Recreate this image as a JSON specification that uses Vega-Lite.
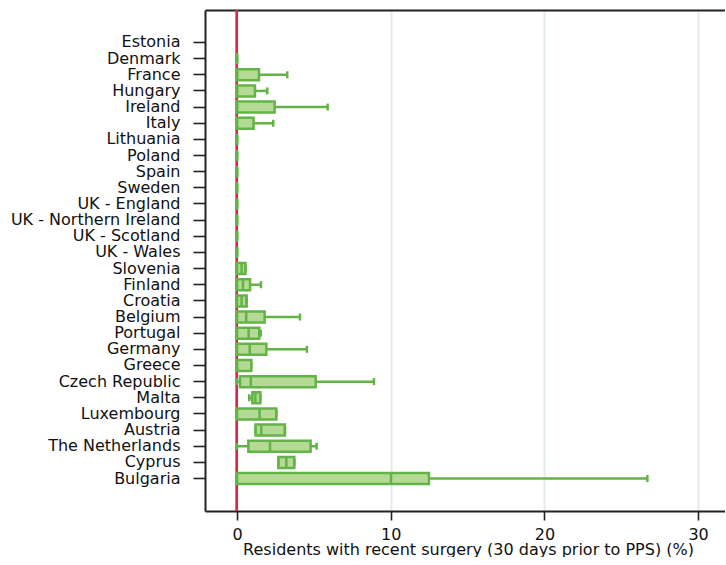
{
  "$schema": "https://vega.github.io/schema/vega-lite/v6.json",
  "width": 520,
  "height": 501,
  "padding": {"top": 9, "left": 10, "right": 0, "bottom": 0},
  "background": "white",
  "data": {
    "values": [
      {"country": "Estonia", "min": null, "q1": null, "median": null, "q3": null, "max": null},
      {"country": "Denmark", "min": 0, "q1": 0, "median": 0, "q3": 0, "max": 0},
      {"country": "France", "min": 0, "q1": 0, "median": 0, "q3": 1.43, "max": 3.27},
      {"country": "Hungary", "min": 0, "q1": 0, "median": 0, "q3": 1.17, "max": 1.97},
      {"country": "Ireland", "min": 0, "q1": 0, "median": 0, "q3": 2.45, "max": 5.9},
      {"country": "Italy", "min": 0, "q1": 0, "median": 0, "q3": 1.08, "max": 2.36},
      {"country": "Lithuania", "min": 0, "q1": 0, "median": 0, "q3": 0, "max": 0},
      {"country": "Poland", "min": 0, "q1": 0, "median": 0, "q3": 0, "max": 0},
      {"country": "Spain", "min": 0, "q1": 0, "median": 0, "q3": 0, "max": 0},
      {"country": "Sweden", "min": 0, "q1": 0, "median": 0, "q3": 0, "max": 0},
      {"country": "UK - England", "min": 0, "q1": 0, "median": 0, "q3": 0, "max": 0},
      {"country": "UK - Northern Ireland", "min": 0, "q1": 0, "median": 0, "q3": 0, "max": 0},
      {"country": "UK - Scotland", "min": 0, "q1": 0, "median": 0, "q3": 0, "max": 0},
      {"country": "UK - Wales", "min": 0, "q1": 0, "median": 0, "q3": 0, "max": 0},
      {"country": "Slovenia", "min": 0, "q1": 0, "median": 0.3, "q3": 0.55, "max": 0.55},
      {"country": "Finland", "min": 0, "q1": 0, "median": 0.39, "q3": 0.85, "max": 1.56},
      {"country": "Croatia", "min": 0, "q1": 0, "median": 0.3, "q3": 0.63, "max": 0.63},
      {"country": "Belgium", "min": 0, "q1": 0, "median": 0.6, "q3": 1.8, "max": 4.1},
      {"country": "Portugal", "min": 0, "q1": 0, "median": 0.76, "q3": 1.45, "max": 1.55},
      {"country": "Germany", "min": 0, "q1": 0, "median": 0.83, "q3": 1.91, "max": 4.55},
      {"country": "Greece", "min": 0, "q1": 0, "median": 0, "q3": 0.93, "max": 0.93},
      {"country": "Czech Republic", "min": 0, "q1": 0.2, "median": 0.9, "q3": 5.12, "max": 8.91},
      {"country": "Malta", "min": 0.8, "q1": 1.0, "median": 1.2, "q3": 1.52, "max": 1.52},
      {"country": "Luxembourg", "min": 0, "q1": 0, "median": 1.47, "q3": 2.56, "max": 2.56},
      {"country": "Austria", "min": 1.21, "q1": 1.21, "median": 1.58, "q3": 3.12, "max": 3.12},
      {"country": "The Netherlands", "min": 0, "q1": 0.74, "median": 2.15, "q3": 4.79, "max": 5.18},
      {"country": "Cyprus", "min": 2.69, "q1": 2.69, "median": 3.21, "q3": 3.73, "max": 3.73},
      {"country": "Bulgaria", "min": 0, "q1": 0, "median": 10.02, "q3": 12.49, "max": 26.7}
    ]
  },
  "resolve": {"axis": {"x": "independent"}},
  "layer": [
    {
      "mark": {"type": "rule", "color": "#d9283b", "strokeWidth": 2},
      "encoding": {
        "x": {
          "datum": 0,
          "type": "quantitative",
          "scale": {"domain": [-2.08, 31.75], "nice": false, "zero": false},
          "axis": {"orient": "top", "title": null, "labels": false, "ticks": false, "grid": false, "domain": true}
        }
      }
    },
    {
      "mark": {"type": "rule", "color": "#63b446", "strokeWidth": 2.5},
      "encoding": {
        "y": {
          "field": "country",
          "type": "nominal",
          "sort": null,
          "scale": {
            "domain": ["_gap_top", "Estonia", "Denmark", "France", "Hungary", "Ireland", "Italy", "Lithuania", "Poland", "Spain", "Sweden", "UK - England", "UK - Northern Ireland", "UK - Scotland", "UK - Wales", "Slovenia", "Finland", "Croatia", "Belgium", "Portugal", "Germany", "Greece", "Czech Republic", "Malta", "Luxembourg", "Austria", "The Netherlands", "Cyprus", "Bulgaria", "_gap_bottom"],
            "paddingInner": 0,
            "paddingOuter": 0.51
          },
          "axis": {
            "title": null,
            "labelExpr": "slice(datum.value, 0, 5) == '_gap_' ? '' : datum.label",
            "tickOpacity": {"condition": {"test": "slice(datum.value, 0, 5) == '_gap_'", "value": 0}, "value": 1}
          }
        },
        "x": {
          "field": "min",
          "type": "quantitative",
          "scale": {"domain": [-2.08, 31.75], "nice": false, "zero": false},
          "axis": {
            "orient": "bottom",
            "title": "Residents with recent surgery (30 days prior to PPS) (%)",
            "values": [0, 10, 20, 30],
            "grid": true,
            "titleX": 263
          }
        },
        "x2": {"field": "max"}
      }
    },
    {
      "mark": {"type": "bar", "size": 11, "fill": "#b5da95", "stroke": "#63b446", "strokeWidth": 2.5},
      "encoding": {
        "y": {"field": "country", "type": "nominal", "sort": null},
        "x": {"field": "q1", "type": "quantitative", "axis": null},
        "x2": {"field": "q3"}
      }
    },
    {
      "mark": {"type": "tick", "size": 11, "thickness": 2.5, "color": "#63b446", "opacity": 1},
      "encoding": {
        "y": {"field": "country", "type": "nominal", "sort": null},
        "x": {"field": "median", "type": "quantitative", "axis": null}
      }
    },
    {
      "mark": {"type": "tick", "size": 7, "thickness": 2.5, "color": "#63b446", "opacity": 1},
      "encoding": {
        "y": {"field": "country", "type": "nominal", "sort": null},
        "x": {"field": "max", "type": "quantitative", "axis": null}
      }
    },
    {
      "mark": {"type": "tick", "size": 7, "thickness": 2.5, "color": "#63b446", "opacity": 1},
      "encoding": {
        "y": {"field": "country", "type": "nominal", "sort": null},
        "x": {"field": "min", "type": "quantitative", "axis": null}
      }
    }
  ],
  "config": {
    "view": {"stroke": null},
    "font": "DejaVu Sans",
    "axis": {
      "labelFont": "DejaVu Sans",
      "titleFont": "DejaVu Sans",
      "labelFontSize": 16,
      "titleFontSize": 16,
      "titleFontWeight": "normal",
      "labelColor": "#111111",
      "titleColor": "#111111",
      "domainColor": "#222222",
      "domainWidth": 2,
      "tickColor": "#222222",
      "tickWidth": 1.6,
      "gridColor": "#e2ebf0",
      "gridWidth": 2
    },
    "axisY": {"tickSize": 12, "labelPadding": 13, "grid": false, "labelLimit": 400},
    "axisBottom": {"tickSize": 9, "labelPadding": 6, "titlePadding": -1, "labelFlush": false}
  }
}
